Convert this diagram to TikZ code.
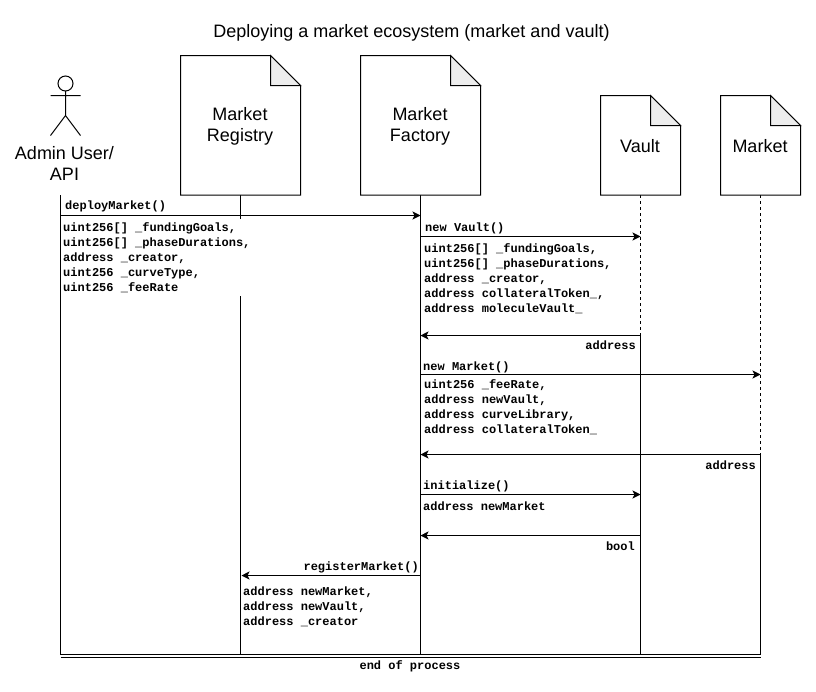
\documentclass[tikz,border=0pt]{standalone}
\usepackage{fontspec}
\setmainfont{Liberation Sans}
\newfontfamily\monob[BoldFont={Liberation Mono Bold},WordSpace={1,0,0}]{Liberation Mono}
\newcommand\us{\char95\relax}
\newcommand\codefont{\monob\bfseries\fontsize{12}{15}\selectfont}
\usetikzlibrary{arrows.meta}
\tikzset{
  x=1pt,y=-1pt,
  line/.style={draw=black,line width=1pt},
  msg/.style={line,-{Stealth[length=8pt,width=8pt,inset=2pt]}},
  dashl/.style={line,dash pattern=on 3pt off 3pt},
  doc/.style={line,fill=white,line join=miter},
  fold/.style={line,fill=black!7,line join=miter},
  lbl/.style={font=\fontsize{18}{21}\selectfont,align=center,inner sep=0pt},
  code/.style={font=\codefont,align=left,inner sep=1pt,anchor=north west},
  codeb/.style={code,align=flush left,fill=white},
  coder/.style={font=\codefont,align=right,inner sep=1pt,anchor=north east},
}
\begin{document}
\begin{tikzpicture}
\useasboundingbox (0,0) rectangle (816,691);
\fill[white] (0,0) rectangle (816,691);
\node[font=\fontsize{18}{22}\selectfont,inner sep=0pt] (title) at (411.5,32.5) {Deploying a market ecosystem (market and vault)};
% named anchors
\coordinate (aT) at (60.5,195); \coordinate (aB) at (60.5,655);
\coordinate (rT) at (240.5,195); \coordinate (rB) at (240.5,655);
\coordinate (fT) at (420.5,195); \coordinate (fB) at (420.5,655);
\coordinate (vT) at (640.5,195); \coordinate (vR) at (640.5,336); \coordinate (vB) at (640.5,655);
\coordinate (mT) at (760.5,195); \coordinate (mR) at (760.5,455); \coordinate (mB) at (760.5,655);
% lifelines
\draw[line] (aT) -- (aB);
\draw[line] (rT) -- (rB);
\draw[line] (fT) -- (fB);
\draw[dashl] (vT) -- (vR);
\draw[line] (vR) -- (vB);
\draw[dashl] (mT) -- (mR);
\draw[line] (mR) -- (mB);
% actor
\draw[line] (65.5,83.5) circle (7.5);
\draw[line] (65.5,91) -- (65.5,115.5) (50.5,95.5) -- (80.5,95.5) (50.5,135.5) -- (65.5,115.5) -- (80.5,135.5);
\node[lbl] (admin) at (64.5,163.5) {Admin User/\\API};
% documents
\draw[doc] (180.5,55.5) -- (270.5,55.5) -- (300.5,85.5) -- (300.5,195) -- (180.5,195) -- cycle;
\draw[fold] (270.5,55.5) -- (270.5,85.5) -- (300.5,85.5) -- cycle;
\node[lbl] (registry) at (240,126.5) {Market\\Registry};
\draw[doc] (360.5,55.5) -- (450.5,55.5) -- (480.5,85.5) -- (480.5,195) -- (360.5,195) -- cycle;
\draw[fold] (450.5,55.5) -- (450.5,85.5) -- (480.5,85.5) -- cycle;
\node[lbl] (factory) at (420,126.5) {Market\\Factory};
\draw[doc] (600.5,95.5) -- (650.5,95.5) -- (680.5,125.5) -- (680.5,195) -- (600.5,195) -- cycle;
\draw[fold] (650.5,95.5) -- (650.5,125.5) -- (680.5,125.5) -- cycle;
\node[lbl] (vault) at (640,146) {Vault};
\draw[doc] (720.5,95.5) -- (770.5,95.5) -- (800.5,125.5) -- (800.5,195) -- (720.5,195) -- cycle;
\draw[fold] (770.5,95.5) -- (770.5,125.5) -- (800.5,125.5) -- cycle;
\node[lbl] (market) at (760,146) {Market};
% white-backed labels
\node[codeb,text width=340pt,inner sep=0pt,minimum height=77pt] (p1) at (63,219) {uint256[] \us fundingGoals,\\uint256[] \us phaseDurations,\\address \us creator,\\uint256 \us curveType,\\uint256 \us feeRate};
\node[codeb,text width=212pt,inner sep=0pt,minimum height=58pt] (p3) at (424,378) {uint256 \us feeRate,\\address newVault,\\address curveLibrary,\\address collateralToken\us};
\node[code] (p2) at (423,242) {uint256[] \us fundingGoals,\\uint256[] \us phaseDurations,\\address \us creator,\\address collateralToken\us,\\address moleculeVault\us};
\node[code] (p4) at (422,501) {address newMarket};
\node[code] (p5) at (242,586) {address newMarket,\\address newVault,\\address \us creator};
% messages
\draw[msg] (aT |- 0,215.5) -- (fT |- 0,215.5);
\draw[msg] (fT |- 0,236.5) -- (vT |- 0,236.5);
\draw[msg] (vT |- 0,335.5) -- (fT |- 0,335.5);
\draw[msg] (fT |- 0,374.5) -- (mT |- 0,374.5);
\draw[msg] (mT |- 0,454.5) -- (fT |- 0,454.5);
\draw[msg] (fT |- 0,494.5) -- (vT |- 0,494.5);
\draw[msg] (vT |- 0,535.5) -- (fT |- 0,535.5);
\draw[msg] (fT |- 0,575.5) -- (241.5,575.5);
\draw[line] (aT |- 0,654) -- (mT |- 0,654) (aT |- 0,657.5) -- (mT |- 0,657.5);
% message names
\node[code] (n1) at (64,200) {deployMarket()};
\node[code] (n2) at (424,222) {new Vault()};
\node[coder] (n3) at (637,340) {address};
\node[code] (n4) at (422,361) {new Market()};
\node[coder] (n5) at (757,460) {address};
\node[code] (n6) at (422,480) {initialize()};
\node[coder] (n7) at (636,541) {bool};
\node[coder] (n8) at (420,561) {registerMarket()};
\node[font=\codefont,inner sep=1pt] (end) at (410,666.5) {end of process};
\end{tikzpicture}
\end{document}
